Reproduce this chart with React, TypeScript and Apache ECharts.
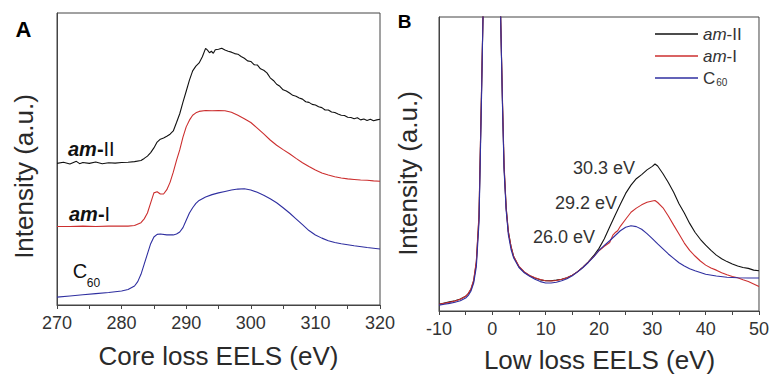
import React, { useEffect, useRef } from "react";
import * as echarts from "echarts";

// ---------- Data ----------
const SERIES_NAMES = ["am-II", "am-I", "C60"];
const COLORS = ["#111111", "#cc2f2f", "#2f2fa0"];

const CORE_X_TICKS = { min: 270, max: 320, step: 10 };
const LOW_X_TICKS = { min: -10, max: 50, step: 10 };

// Panel A – core loss EELS (eV, arbitrary intensity)
const CORE_AM2: [number, number][] = [
  [270, 48.5], [271, 48.9], [272, 48.3], [273, 49.2], [273.5, 48.4], [274, 48.8], [275, 48.5],
  [276, 49.0], [277, 48.4], [278, 48.7], [279, 48.6], [280, 48.8], [281, 48.9], [282, 49.1],
  [283, 49.5], [283.5, 50.2], [284, 51.0], [284.5, 52.2], [285, 53.8], [285.5, 55.8], [286, 56.8],
  [286.5, 57.2], [287, 57.8], [287.5, 58.5], [288, 59.6], [288.5, 62.5], [289, 65.5], [289.5, 69.5],
  [290, 73.2], [290.5, 77], [291, 80.2], [291.5, 81.8], [292, 82.9], [292.5, 85], [293, 87.9],
  [293.3, 87.3], [293.6, 86.4], [293.9, 86.9], [294.2, 86.2], [294.5, 87.4], [295, 87.6],
  [295.5, 87.9], [296, 87.3], [296.5, 86.9], [297, 86.6], [297.5, 86.1], [298, 85.9], [298.5, 85.1],
  [299, 84.5], [299.5, 83.6], [300, 83.4], [300.5, 82.3], [301, 82.2], [301.5, 80.9], [302, 80.4],
  [302.5, 79.5], [303, 77.8], [303.5, 76.9], [304, 75.6], [304.5, 74.9], [305, 73.7], [305.5, 73.3],
  [306, 72.6], [306.5, 71.8], [307, 71.5], [307.5, 70.9], [308, 70.5], [308.5, 69.6], [309, 69.4],
  [309.5, 68.7], [310, 68.5], [310.5, 67.9], [311, 67.6], [311.5, 66.8], [312, 66.8], [312.5, 66.1],
  [313, 65.9], [313.5, 65.4], [314, 65.0], [314.5, 64.9], [315, 64.3], [315.5, 64.2], [316, 63.8],
  [316.5, 64.1], [317, 63.4], [317.5, 63.7], [318, 63.2], [318.5, 63.6], [319, 63.1], [319.5, 63.4],
  [320, 63.6],
];
const CORE_AM1: [number, number][] = [
  [270, 26.9], [272, 26.9], [274, 27.0], [276, 26.9], [278, 27.0], [280, 27.0], [281, 27.0],
  [282, 27.2], [283, 28.2], [283.5, 29.5], [284, 31.5], [284.5, 35], [285, 38.4], [285.5, 38.8],
  [286, 38.0], [286.5, 38.0], [287, 39.5], [287.5, 42], [288, 45.5], [288.5, 49.5], [289, 53.1],
  [289.5, 57.5], [290, 61.0], [290.5, 63.3], [291, 65.0], [291.5, 65.8], [292, 66.3], [293, 66.6],
  [294, 66.5], [295, 66.6], [296, 66.5], [297, 66.0], [298, 65.0], [299, 63.8], [300, 62.5],
  [301, 60.6], [302, 58.6], [303, 56.5], [304, 54.7], [305, 53.2], [306, 51.8], [307, 50.2],
  [308, 48.7], [309, 47.4], [310, 46.2], [311, 45.2], [312, 44.5], [313, 43.9], [314, 43.5],
  [315, 43.2], [316, 43.0], [317, 42.8], [318, 42.7], [319, 42.5], [320, 42.4],
];
const CORE_C60: [number, number][] = [
  [270, 2.7], [272, 3.1], [274, 3.5], [276, 3.9], [278, 4.3], [280, 4.8], [281, 5.3], [282, 6.5],
  [282.5, 8], [283, 10.5], [283.5, 14], [284, 17.5], [284.5, 21], [285, 23.3], [285.5, 24.2],
  [286, 24.3], [287, 24.0], [288, 24.0], [288.5, 24.3], [289, 25.0], [289.5, 26.5], [290, 29],
  [290.5, 31.5], [291, 33.3], [291.5, 34.8], [292, 35.8], [293, 37.0], [294, 37.8], [295, 38.4],
  [296, 38.9], [297, 39.4], [298, 39.7], [299, 39.8], [300, 39.4], [301, 38.6], [302, 37.6],
  [303, 36.4], [304, 35.0], [305, 33.3], [306, 31.5], [307, 29.5], [308, 27.5], [309, 25.5],
  [310, 24.0], [311, 22.9], [312, 22.0], [313, 21.4], [314, 21.0], [316, 20.3], [318, 19.7],
  [320, 19.2],
];

// Panel B – low loss EELS (eV, arbitrary intensity; zero-loss peak runs off the top)
const LOW_AM2: [number, number][] = [
  [-10, 2.3], [-9, 2.7], [-8, 3.1], [-7, 3.5], [-6, 4.1], [-5, 5.0], [-4.5, 5.9], [-4, 7.4],
  [-3.5, 10.2], [-3, 16.5], [-2.5, 32], [-2, 77], [-1.7, 105], [-1, 250], [-0.2, 350], [0.7, 250],
  [1.5, 105], [1.9, 71], [2.2, 49], [2.6, 35], [3, 27], [3.5, 22], [4, 18.5], [5, 15.0], [6, 13.2],
  [7, 12.0], [8, 11.2], [9, 10.6], [10, 10.3], [11, 10.3], [12, 10.5], [13, 10.8], [14, 11.3],
  [15, 12.2], [16, 13.4], [17, 14.9], [18, 16.7], [19, 18.8], [20, 21.3], [21, 24.6], [22, 28.6],
  [23, 32.5], [24, 36.3], [25, 40], [26, 42.8], [27, 45], [28, 46.4], [29, 48], [30, 49.2],
  [30.5, 50], [31, 49.3], [32, 46.7], [33, 43.7], [34, 40.4], [35, 36.5], [36, 33.3], [37, 29.8],
  [38, 26.8], [39, 24.4], [40, 22.4], [41, 20.6], [42, 19], [43, 17.8], [44, 16.8], [45, 16],
  [46, 15.3], [47, 14.8], [48, 14.5], [49, 13.9], [50, 13.7],
];
const LOW_AM1: [number, number][] = [
  [-10, 2.3], [-9, 2.6], [-8, 3.0], [-7, 3.4], [-6, 4.0], [-5, 5.0], [-4.5, 6.0], [-4, 7.6],
  [-3.5, 10.5], [-3, 17], [-2.5, 33], [-2, 78], [-1.7, 105], [-1, 250], [-0.2, 350], [0.7, 250],
  [1.5, 105], [1.9, 72], [2.2, 50], [2.6, 35], [3, 27], [3.5, 22], [4, 18.5], [5, 15.2], [6, 13.3],
  [7, 12.1], [8, 11.3], [9, 10.7], [10, 10.3], [11, 10.2], [12, 10.4], [13, 10.8], [14, 11.3],
  [15, 12.2], [16, 13.4], [17, 14.9], [18, 16.6], [19, 18.5], [20, 20.5], [21, 22], [22, 23.3],
  [22.6, 25.8], [23, 26.6], [23.5, 27.3], [24, 28.8], [25, 31.2], [26, 33.6], [27, 35], [28, 36.1],
  [29, 37], [30, 37.4], [30.5, 37.6], [31, 36.9], [32, 35.1], [33, 32.3], [34, 29.2], [35, 26.2],
  [36, 23.1], [37, 20.6], [38, 18.7], [39, 17.0], [40, 15.6], [41, 14.6], [42, 13.9], [43, 13],
  [44, 12.3], [45, 11.7], [46, 11.3], [47, 10.6], [48, 10], [49, 9.2], [50, 8.3],
];
const LOW_C60: [number, number][] = [
  [-10, 2.0], [-9, 2.3], [-8, 2.6], [-7, 3.0], [-6, 3.5], [-5, 4.4], [-4.5, 5.3], [-4, 6.8],
  [-3.5, 9.5], [-3, 15], [-2.5, 30], [-2, 75], [-1.7, 105], [-1, 250], [-0.2, 350], [0.7, 250],
  [1.5, 105], [1.9, 70], [2.2, 48], [2.6, 34], [3, 26], [3.5, 21], [4, 18], [5, 14.8], [6, 13],
  [7, 11.8], [8, 10.8], [9, 10], [10, 9.5], [11, 9.5], [12, 9.8], [13, 10.3], [14, 11], [15, 12],
  [16, 13.3], [17, 14.8], [18, 16.5], [19, 18.4], [20, 20.6], [21, 22.3], [22, 23.9], [23, 25.6],
  [24, 27.3], [25, 28.5], [26, 29], [27, 28.7], [28, 27.8], [29, 26.3], [30, 24.6], [31, 22.8],
  [32, 21.1], [33, 19.4], [34, 17.9], [35, 16.4], [36, 15.3], [37, 14.4], [38, 13.7], [39, 13.1],
  [40, 12.5], [42, 11.9], [44, 11.5], [46, 11.3], [48, 11.2], [50, 11.2],
];

const PEAK_LABELS = ["30.3 eV", "29.2 eV", "26.0 eV"];

// ---------- Component ----------
const FONT = "'Liberation Sans', Arial, Helvetica, sans-serif";
const AXIS_COLOR = "#444";
const TEXT_COLOR = "#2a2a2a";

export default function App() {
  const ref = useRef<HTMLDivElement>(null);

  useEffect(() => {
    if (!ref.current) return;
    const chart = echarts.init(ref.current, null, { renderer: "svg" });

    const xAxisBase = (t: { min: number; max: number; step: number }, gridIndex: number) => ({
      type: "value",
      gridIndex,
      min: t.min,
      max: t.max,
      interval: t.step,
      axisLine: { show: true, onZero: false, lineStyle: { color: AXIS_COLOR, width: 1 } },
      axisTick: { show: true, inside: false, length: 4, lineStyle: { color: AXIS_COLOR } },
      minorTick: { show: true, splitNumber: 2, length: 4, lineStyle: { color: AXIS_COLOR } },
      axisLabel: { show: true, fontSize: 18, color: "#333", fontFamily: FONT, margin: 9 },
      splitLine: { show: false },
    });
    const yAxisBase = (gridIndex: number) => ({
      type: "value",
      gridIndex,
      min: 0,
      max: 100,
      axisLine: { show: true, onZero: false, lineStyle: { color: AXIS_COLOR, width: 1 } },
      axisTick: { show: false },
      axisLabel: { show: false },
      splitLine: { show: false },
    });

    const coreData = [CORE_AM2, CORE_AM1, CORE_C60];
    const lowData = [LOW_AM2, LOW_AM1, LOW_C60];

    const series: any[] = [];
    SERIES_NAMES.forEach((name, i) => {
      series.push({
        type: "line",
        name,
        xAxisIndex: 0,
        yAxisIndex: 0,
        data: coreData[i],
        symbol: "none",
        clip: true,
        lineStyle: { color: COLORS[i], width: 1.1 },
        itemStyle: { color: COLORS[i] },
      });
    });
    SERIES_NAMES.forEach((name, i) => {
      series.push({
        type: "line",
        name,
        xAxisIndex: 1,
        yAxisIndex: 1,
        data: lowData[i],
        symbol: "none",
        clip: true,
        lineStyle: { color: COLORS[i], width: 1.1 },
        itemStyle: { color: COLORS[i] },
      });
    });

    const txt = (text: string, x: number, y: number, size: number, extra: any = {}) => ({
      type: "text",
      x,
      y,
      silent: true,
      style: {
        text,
        fontSize: size,
        fontFamily: FONT,
        fill: TEXT_COLOR,
        align: "center",
        verticalAlign: "middle",
        ...extra,
      },
    });

    const labelRich = {
      bi: { fontSize: 20, fontWeight: "bold", fontStyle: "italic", fontFamily: FONT, fill: "#111" },
      b: { fontSize: 20, fontWeight: "bold", fontFamily: FONT, fill: "#111" },
      r: { fontSize: 20, fontFamily: FONT, fill: "#111" },
    };

    const option: any = {
      animation: false,
      backgroundColor: "#ffffff",
      grid: [
        { left: 57, top: 13, width: 323, height: 292, show: true, borderColor: AXIS_COLOR, borderWidth: 1, containLabel: false },
        { left: 439, top: 17, width: 321, height: 294, show: true, borderColor: AXIS_COLOR, borderWidth: 1, containLabel: false },
      ],
      xAxis: [xAxisBase(CORE_X_TICKS, 0), xAxisBase(LOW_X_TICKS, 1)],
      yAxis: [yAxisBase(0), yAxisBase(1)],
      legend: {
        orient: "vertical",
        left: 655,
        top: 23,
        padding: 0,
        icon: "rect",
        itemWidth: 43,
        itemHeight: 1.4,
        itemGap: 0,
        selectedMode: false,
        data: SERIES_NAMES,
        formatter: (name: string) => {
          if (name === "C60") return "{n|C}{s|60}";
          return "{i|am}{n|" + name.slice(2) + "}";
        },
        textStyle: {
          fontFamily: FONT,
          color: "#333",
          fontSize: 17,
          lineHeight: 22,
          rich: {
            i: { fontStyle: "italic", fontSize: 17, lineHeight: 22, fontFamily: FONT, color: "#333" },
            n: { fontSize: 17, lineHeight: 22, fontFamily: FONT, color: "#333" },
            s: { fontSize: 10, lineHeight: 22, fontFamily: FONT, color: "#333", padding: [10, 0, 0, 1] },
          },
        },
      },
      series,
      graphic: [
        txt("A", 23.5, 29, 22, { fontWeight: "bold", fill: "#000" }),
        txt("B", 404.5, 21.5, 19, { fontWeight: "bold", fill: "#000" }),
        { ...txt("Intensity (a.u.)", 24, 176.5, 26), rotation: Math.PI / 2 },
        { ...txt("Intensity (a.u.)", 408, 173.5, 26), rotation: Math.PI / 2 },
        txt("Core loss EELS (eV)", 218.5, 356, 26),
        txt("Low loss EELS (eV)", 599.5, 360, 26),
        {
          type: "text", x: 68, y: 148.5, silent: true,
          style: { text: "{bi|am}{b|-}{r|II}", verticalAlign: "middle", rich: labelRich },
        },
        {
          type: "text", x: 69, y: 213.5, silent: true,
          style: { text: "{bi|am}{b|-}{r|I}", verticalAlign: "middle", rich: labelRich },
        },
        txt("C", 80, 270.5, 20, { fill: "#111" }),
        txt("60", 93.5, 283, 12, { fill: "#111" }),
        txt(PEAK_LABELS[0], 604, 167.5, 18, { fill: "#333" }),
        txt(PEAK_LABELS[1], 586, 203, 18, { fill: "#333" }),
        txt(PEAK_LABELS[2], 564, 237, 18, { fill: "#333" }),
      ],
    };

    chart.setOption(option);
    return () => chart.dispose();
  }, []);

  return (
    <div
      ref={ref}
      style={{ position: "absolute", left: 0, top: 0, width: 772, height: 376, background: "#fff" }}
    />
  );
}
